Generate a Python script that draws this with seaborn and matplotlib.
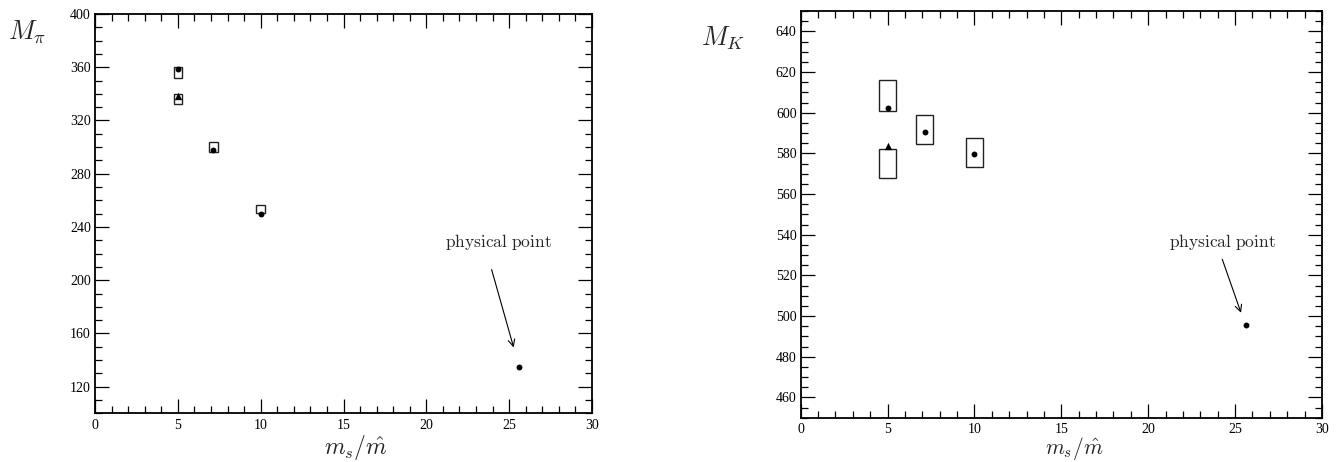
import matplotlib
matplotlib.use("Agg")
import matplotlib.pyplot as plt
import seaborn as sns
import pandas as pd

# ---- data -------------------------------------------------------------
# quark-mass ratio of the lattice ensembles
ms_ratio = [5.0, 7.14, 10.0]
ms_ratio_tri = [5.0]
box_x = [5.0, 5.0, 7.14, 10.0]

# pion masses (MeV)
mpi_dots = [358.5, 297.7, 250.0]
mpi_tri = [338.7]
mpi_box_lo = [352.0, 332.3, 296.0, 250.5]
mpi_box_hi = [360.5, 339.8, 303.5, 256.8]

# kaon masses (MeV)
mk_dots = [602.3, 590.4, 579.8]
mk_tri = [583.8]
mk_box_lo = [600.9, 567.8, 584.5, 573.3]
mk_box_hi = [615.9, 582.1, 599.1, 587.6]

# physical point
phys_ratio = 25.6
mpi_phys = 135.0
mk_phys = 495.6

x_ticks = [0, 5, 10, 15, 20, 25, 30]
pi_yticks = [120, 160, 200, 240, 280, 320, 360, 400]
k_yticks = [460, 480, 500, 520, 540, 560, 580, 600, 620, 640]

# ---- style ------------------------------------------------------------
sns.set_theme(style="ticks")
plt.rcParams["font.family"] = ["Liberation Serif", "DejaVu Serif"]
plt.rcParams["mathtext.fontset"] = "cm"

fig = plt.figure(figsize=(13.4, 4.62), dpi=100)
ax_pi = fig.add_axes([95 / 1340, 1 - 413.3 / 462, 497 / 1340, 399.3 / 462])
ax_k = fig.add_axes([800.7 / 1340, 1 - 417.7 / 462, 521.3 / 1340, 406.7 / 462])


def style_axes(ax, yticks, yminor, ylim, label_y, label_size):
    ax.set_xlim(0, 30)
    ax.set_ylim(*ylim)
    ax.set_xticks(x_ticks)
    ax.set_xticks([v for v in range(0, 31)], minor=True)
    ax.set_yticks(yticks)
    ax.set_yticks(yminor, minor=True)
    ax.tick_params(which="both", direction="in", top=True, right=True,
                   colors="black", labelsize=10, width=0.9)
    ax.tick_params(which="major", length=10)
    ax.tick_params(which="minor", length=5)
    ax.tick_params(axis="x", pad=4)
    ax.tick_params(axis="y", pad=3)
    for s in ax.spines.values():
        s.set_visible(True)
        s.set_linewidth(1.3)
        s.set_color("black")
    ax.set_xlabel(r"$m_s/\hat{m}$", fontsize=label_size)
    ax.xaxis.set_label_coords(0.525, label_y)
    ax.set_ylabel("")


def draw_panel(ax, dots, tri, lo, hi, half_w, phys_y, text_xy, arrow_from, arrow_to):
    heights = [h - l for l, h in zip(lo, hi)]
    ax.bar(box_x, heights, bottom=lo, width=2 * half_w, fill=False,
           edgecolor="#222222", linewidth=1.0, zorder=2)
    df_dot = pd.DataFrame({"x": ms_ratio + [phys_ratio], "y": dots + [phys_y]})
    sns.scatterplot(data=df_dot, x="x", y="y", ax=ax, marker="o", s=18,
                    color="black", edgecolor="black", linewidth=0, zorder=3)
    df_tri = pd.DataFrame({"x": ms_ratio_tri, "y": tri})
    sns.scatterplot(data=df_tri, x="x", y="y", ax=ax, marker="^", s=28,
                    color="black", edgecolor="black", linewidth=0, zorder=3)
    ax.annotate("", xy=arrow_to, xytext=arrow_from,
                arrowprops=dict(arrowstyle="->", lw=0.8, color="black",
                                mutation_scale=12, shrinkA=0, shrinkB=0))
    ax.text(*text_xy, r"$\mathrm{physical\ point}$", ha="center", va="center",
            fontsize=12.5)


draw_panel(ax_pi, mpi_dots, mpi_tri, mpi_box_lo, mpi_box_hi, 0.26, mpi_phys,
           (24.38, 229.0), (23.94, 208.0), (25.27, 149.5))
style_axes(ax_pi, pi_yticks, list(range(100, 401, 10)), (100, 400), -0.05, 17)

draw_panel(ax_k, mk_dots, mk_tri, mk_box_lo, mk_box_hi, 0.5, mk_phys,
           (24.29, 536.5), (24.26, 527.9), (25.34, 501.6))
style_axes(ax_k, k_yticks, list(range(450, 651, 5)), (450, 650), -0.043, 15.5)

fig.text(8 / 1340, 1 - 39 / 462, r"$M_\pi$", fontsize=19, ha="left", va="baseline")
fig.text(701 / 1340, 1 - 46 / 462, r"$M_K$", fontsize=19, ha="left", va="baseline")

fig.savefig("out.png", dpi=100, facecolor="white")
